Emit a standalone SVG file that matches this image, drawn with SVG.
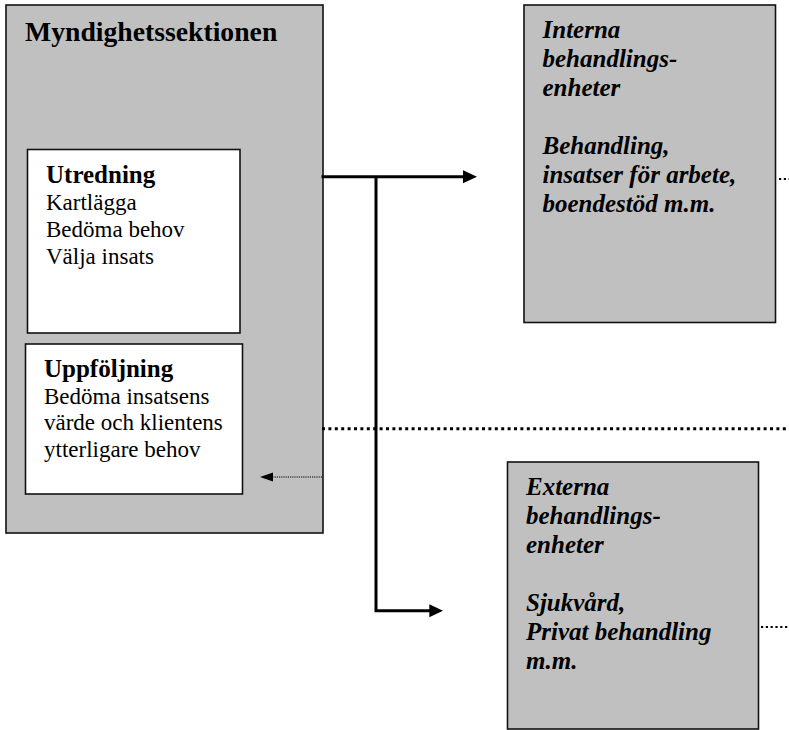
<svg xmlns="http://www.w3.org/2000/svg" width="789" height="730" viewBox="0 0 789 730" font-family="'Liberation Serif', 'Times New Roman', 'DejaVu Serif', serif">
<style>
.box{fill:#C0C0C0;stroke:#111;stroke-width:1.6}
.wbox{fill:#FFFFFF;stroke:#111;stroke-width:1.6}
text{font-family:'Liberation Serif','Times New Roman','DejaVu Serif',serif;fill:#000}
.title{font-size:27.7px;font-weight:bold}
.head{font-size:25px;font-weight:bold}
.body{font-size:23px}
.bi{font-size:25px;font-weight:bold;font-style:italic}
.solid{stroke:#000;stroke-width:3;fill:none}
.thickdot{stroke:#000;stroke-width:3;stroke-dasharray:3 3.4;fill:none}
.thindot{stroke:#000;stroke-width:2.2;stroke-dasharray:2.2 2.6;fill:none}
.finedot{stroke:#000;stroke-width:1.2;stroke-dasharray:1.2 1;fill:none}
</style>
<rect width="789" height="730" fill="#FFFFFF"/>
<g id="myndighetssektionen">
<rect class="box" x="6" y="5" width="317" height="528"/>
<text class="title" x="25" y="40.5" font-family="Liberation Serif, serif">Myndighetssektionen</text>
</g>
<g id="utredning" font-family="Liberation Serif, serif">
<rect class="wbox" x="27.5" y="149.5" width="212.5" height="183.5"/>
<text class="head" x="46" y="183">Utredning</text>
<text class="body" x="46" y="209.5">Kartlägga</text>
<text class="body" x="46" y="236.5">Bedöma behov</text>
<text class="body" x="46" y="263.5">Välja insats</text>
</g>
<g id="uppfoljning">
<rect class="wbox" x="25.5" y="344" width="217" height="150"/>
<text class="head" x="44" y="377">Uppföljning</text>
<text class="body" x="44" y="403.5">Bedöma insatsens</text>
<text class="body" x="44" y="430">värde och klientens</text>
<text class="body" x="44" y="456.5">ytterligare behov</text>
</g>
<g id="interna">
<rect class="box" x="524" y="5" width="251.5" height="317.5"/>
<text class="bi" x="542.5" y="38">Interna</text>
<text class="bi" x="542.5" y="67">behandlings-</text>
<text class="bi" x="542.5" y="96">enheter</text>
<text class="bi" x="542.5" y="154">Behandling,</text>
<text class="bi" x="542.5" y="183">insatser för arbete,</text>
<text class="bi" x="542.5" y="212">boendestöd m.m.</text>
</g>
<g id="externa">
<rect class="box" x="507.5" y="462" width="251" height="267"/>
<text class="bi" x="526" y="495">Externa</text>
<text class="bi" x="526" y="524">behandlings-</text>
<text class="bi" x="526" y="553">enheter</text>
<text class="bi" x="526" y="611">Sjukvård,</text>
<text class="bi" x="526" y="640">Privat behandling</text>
<text class="bi" x="526" y="669">m.m.</text>
</g>
<g id="connectors">
<path class="solid" d="M321.5 176.7 H464"/>
<polygon points="463,170.2 477,176.7 463,183.2" fill="#000"/>
<path class="solid" d="M376 176.7 V610.7 H430"/>
<polygon points="429.3,604.2 443,610.7 429.3,617.2" fill="#000"/>
<path class="thickdot" d="M322 428.7 H789"/>
<path class="finedot" d="M322 477 H273"/>
<polygon points="273,472.5 260,477 273,481.5" fill="#000"/>
<path class="thindot" d="M779 179 H789"/>
<path class="thindot" d="M761 627 H789"/>
</g>
</svg>
